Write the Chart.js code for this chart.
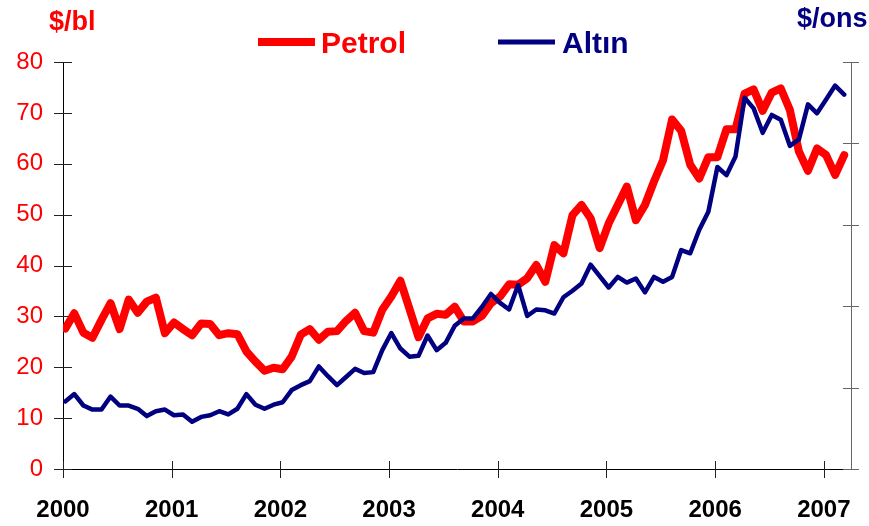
<!DOCTYPE html>
<html>
<head>
<meta charset="utf-8">
<script src="https://cdn.jsdelivr.net/npm/chart.js@4"></script>
<style>
  html, body { margin: 0; padding: 0; background: #fff; }
</style>
</head>
<body>
<canvas id="chart" width="869" height="526"></canvas>
<script>
// yıllar (x ekseni etiketleri)
const years = ["2000", "2001", "2002", "2003", "2004", "2005", "2006", "2007"];

// petrol fiyatı, $/bl (aylık, Ocak 2000 - Mart 2007)
const petrol = [
  27.6, 30.6, 26.8, 25.8, 29.3, 32.6, 27.5, 33.3, 30.7, 32.9, 33.7, 26.7,
  28.8, 27.5, 26.3, 28.6, 28.5, 26.3, 26.7, 26.5, 23.1, 21.1, 19.3, 19.9,
  19.6, 22.1, 26.4, 27.5, 25.4, 27.0, 27.1, 29.1, 30.7, 27.1, 26.8, 31.3,
  33.9, 37.0, 31.5, 25.9, 29.6, 30.5, 30.3, 31.9, 29.0, 29.0, 30.1, 32.6,
  33.9, 36.3, 36.2, 37.5, 40.1, 36.8, 44.0, 42.4, 49.9, 51.9, 49.3, 43.4,
  48.3, 51.9, 55.5, 48.9, 51.9, 56.5, 60.7, 68.7, 66.5, 59.8, 57.1, 61.3,
  61.3, 66.8, 66.8, 73.8, 74.6, 70.4, 74.0, 74.8, 70.6, 62.4, 58.6, 63.0,
  61.7, 57.8, 61.7
];

// altın fiyatı, $/ons (sağ eksen)
const altin = [
  283, 292, 278, 273, 273, 289, 278, 278, 274, 265, 271, 273,
  266, 267, 258, 264, 266, 271, 267, 274, 292, 279, 274, 279,
  282, 297, 303, 308, 326, 314, 303, 313, 323, 318, 319, 346,
  367, 348, 338, 339, 364, 346, 355, 376, 385, 385, 399, 415,
  404, 396, 426, 388, 396, 395, 391, 411, 419, 428, 451, 437,
  423, 436, 429, 434, 417, 436, 430, 436, 469, 465, 494, 516,
  571, 561, 584, 656, 643, 613, 635, 629, 597, 605, 648, 637,
  654, 671, 660
];

// eksen aralıkları
const leftTicks = [0, 10, 20, 30, 40, 50, 60, 70, 80];
const rightTicks = [200, 300, 400, 500, 600, 700];

const RED = "#ff0000";
const NAVY = "#000080";
const FONT = "'Liberation Sans', Arial, sans-serif";

// eksen çentikleri, birimler ve açıklama
const decorPlugin = {
  id: "decor",
  beforeDatasetsDraw(chart) {
    const { ctx, chartArea: a, scales } = chart;
    ctx.save();
    ctx.lineWidth = 1;
    ctx.strokeStyle = "#222";
    ctx.beginPath();
    leftTicks.forEach((v) => {
      const y = Math.round(scales.y.getPixelForValue(v)) + 0.5;
      ctx.moveTo(a.left - 9, y);
      ctx.lineTo(a.left + 9, y);
    });
    scales.x.ticks.forEach((t) => {
      const x = Math.round(scales.x.getPixelForValue(t.value)) + 0.5;
      ctx.moveTo(x, a.bottom - 8);
      ctx.lineTo(x, a.bottom + 9);
    });
    // x ekseni sağa biraz uzuyor
    const yb = Math.round(a.bottom) + 0.5;
    ctx.moveTo(a.right, yb);
    ctx.lineTo(a.right + 8, yb);
    ctx.stroke();

    ctx.strokeStyle = "#666";
    ctx.beginPath();
    rightTicks.forEach((v) => {
      const y = Math.round(scales.y2.getPixelForValue(v)) + 0.5;
      ctx.moveTo(a.right - 8, y);
      ctx.lineTo(a.right + 8, y);
    });
    ctx.stroke();
    ctx.restore();
  },
  afterDraw(chart) {
    const { ctx } = chart;
    ctx.save();
    ctx.textBaseline = "alphabetic";

    // birimler
    ctx.font = "bold 27px " + FONT;
    ctx.fillStyle = RED;
    ctx.textAlign = "left";
    ctx.fillText("$/bl", 49, 30);
    ctx.fillStyle = NAVY;
    ctx.fillText("$/ons", 797, 27);

    // açıklama
    ctx.lineCap = "butt";
    ctx.strokeStyle = RED;
    ctx.lineWidth = 8;
    ctx.beginPath();
    ctx.moveTo(258, 42);
    ctx.lineTo(315, 42);
    ctx.stroke();
    ctx.font = "bold 30px " + FONT;
    ctx.fillStyle = RED;
    ctx.fillText("Petrol", 321, 53);

    ctx.strokeStyle = NAVY;
    ctx.lineWidth = 5;
    ctx.beginPath();
    ctx.moveTo(498, 42);
    ctx.lineTo(555, 42);
    ctx.stroke();
    ctx.fillStyle = NAVY;
    ctx.fillText("Altın", 562, 53);
    ctx.restore();
  },
};

new Chart(document.getElementById("chart"), {
  type: "line",
  data: {
    datasets: [
      {
        label: "Petrol",
        data: petrol.map((v, i) => ({ x: i, y: v })),
        yAxisID: "y",
        borderColor: RED,
        borderWidth: 8,
        borderJoinStyle: "round",
        borderCapStyle: "round",
        pointRadius: 0,
        fill: false,
        order: 2,
      },
      {
        label: "Altın",
        data: altin.map((v, i) => ({ x: i, y: v })),
        yAxisID: "y2",
        borderColor: NAVY,
        borderWidth: 4.5,
        borderJoinStyle: "round",
        borderCapStyle: "round",
        pointRadius: 0,
        fill: false,
        order: 1,
      },
    ],
  },
  options: {
    responsive: false,
    animation: false,
    layout: { padding: { top: 62, left: 0, right: 0, bottom: 0 } },
    plugins: {
      legend: { display: false },
      tooltip: { enabled: false },
    },
    scales: {
      x: {
        type: "linear",
        min: -0.25,
        max: 86.75,
        grid: { display: false, drawTicks: false },
        border: { display: true, color: "#000", width: 1 },
        afterBuildTicks: (s) => {
          s.ticks = years.map((_, k) => ({ value: k * 12 - 0.25 }));
        },
        afterFit: (s) => {
          s.height = 57;
          s.paddingLeft = 0;
          s.paddingRight = 0;
        },
        ticks: {
          autoSkip: false,
          maxRotation: 0,
          padding: 27,
          color: "#000",
          font: { family: FONT, size: 24, weight: "bold" },
          callback: (v, i) => years[i],
        },
      },
      y: {
        position: "left",
        min: 0,
        max: 80,
        grid: { display: false, drawTicks: false },
        border: { display: true, color: "#000", width: 1 },
        afterBuildTicks: (s) => {
          s.ticks = leftTicks.map((v) => ({ value: v }));
        },
        afterFit: (s) => { s.width = 63; },
        ticks: {
          padding: 20,
          color: RED,
          font: { family: FONT, size: 24 },
        },
      },
      y2: {
        position: "right",
        min: 200,
        max: 700,
        grid: { display: false, drawTicks: false },
        border: { display: true, color: "#666", width: 1 },
        afterFit: (s) => { s.width = 18; },
        ticks: { display: false, stepSize: 100 },
      },
    },
  },
  plugins: [decorPlugin],
});
</script>
</body>
</html>
